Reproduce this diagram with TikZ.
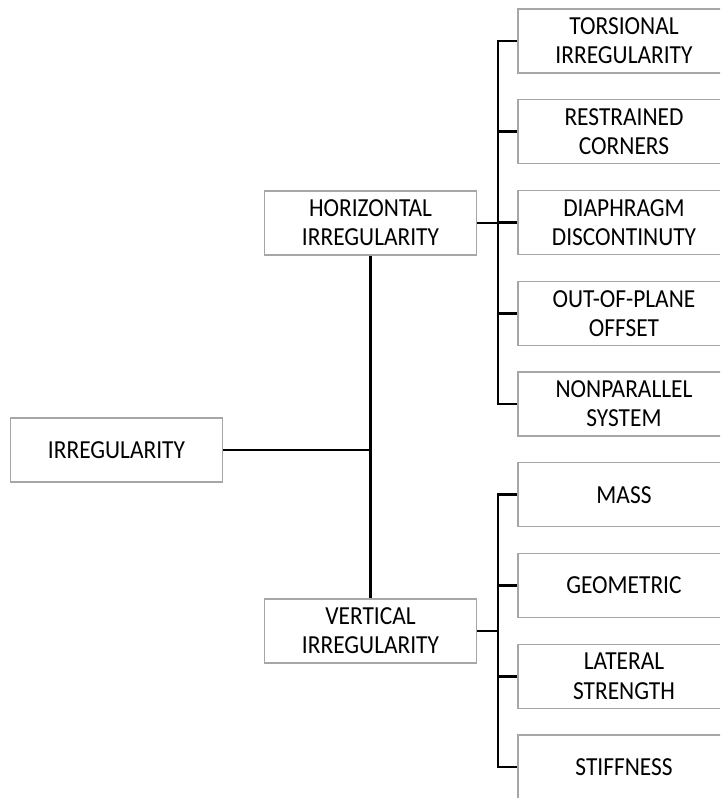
\documentclass[tikz,border=0pt]{standalone}
\usepackage{fontspec}
\setmainfont{Carlito}[FakeStretch=0.9]
\usetikzlibrary{positioning}
\definecolor{BoxClr}{rgb}{0.65,0.65,0.65}

\tikzset{
  item/.style={draw=BoxClr,line width=0.6pt,fill=white,align=center,
    minimum width=106pt,minimum height=32pt,inner sep=0pt,
    font=\fontsize{13}{14.6}\selectfont},
  link/.style={line width=1.3pt,color=black}
}

\begin{document}
\begin{tikzpicture}[x=0.5pt,y=-0.5pt]
\useasboundingbox (0,0) rectangle (720,798);
\clip (0,0) rectangle (720,798);

\node[item] (irr) at (116.5,450) {IRREGULARITY};
\node[item] (hor) at (370.5,223) {HORIZONTAL\\IRREGULARITY};
\node[item] (ver) at (370.5,631) {VERTICAL\\IRREGULARITY};

\node[item] (tor) at (624,41) {TORSIONAL\\IRREGULARITY};
\node[item] (res) at (624,131.75) {RESTRAINED\\CORNERS};
\node[item] (dia) at (624,222.5) {DIAPHRAGM\\DISCONTINUTY};
\node[item] (off) at (624,313.25) {OUT-OF-PLANE\\OFFSET};
\node[item] (non) at (624,404) {NONPARALLEL\\SYSTEM};

\node[item] (mas) at (624,494.75) {MASS};
\node[item] (geo) at (624,585.5) {GEOMETRIC};
\node[item] (lat) at (624,676.25) {LATERAL\\STRENGTH};
\node[item] (sti) at (624,767) {STIFFNESS};

% main branches
\draw[link] (hor.south) -- (ver.north);
\draw[link] (irr.east) -- (irr -| hor);

% horizontal group
\coordinate (hj) at ([xshift=10.5pt]hor.east);
\draw[link] (hor.east) -- (hj);
\foreach \n in {tor,res,dia,off,non}
  \draw[link] (hj) |- (\n.west);

% vertical group
\coordinate (vj) at ([xshift=10.5pt]ver.east);
\draw[link] (ver.east) -- (vj);
\foreach \n in {mas,geo,lat,sti}
  \draw[link] (vj) |- (\n.west);

\end{tikzpicture}
\end{document}
